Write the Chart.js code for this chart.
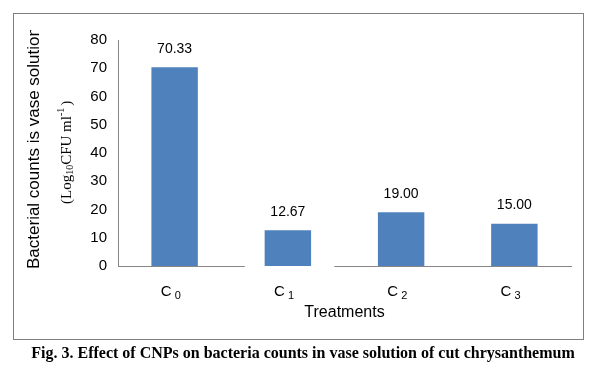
<!DOCTYPE html>
<html>
<head>
<meta charset="utf-8">
<script src="https://cdn.jsdelivr.net/npm/chart.js@4"></script>
<style>
  body { margin: 0; background: #fff; }
  #wrap { width: 603px; height: 371px; }
</style>
</head>
<body>
<div id="wrap"><canvas id="bacteriaChart" width="603" height="371"></canvas></div>
<script>
let treatments = ['0', '1', '2', '3'];   // subscripts of C
let bacteriaCounts = [70.33, 12.67, 19.00, 15.00];
let yTicks = [0, 10, 20, 30, 40, 50, 60, 70, 80];

const axisGray = '#868686';

// frame, titles, caption and value labels
const decorPlugin = {
    id: 'decor',
    beforeDatasetsDraw(chart) {
        // the original axis line has a break between C1 and C2
        let ctx = chart.ctx;
        let xs = chart.scales.x;
        let g0 = xs.getPixelForValue(0.62), g1 = xs.getPixelForValue(1.41);
        ctx.save();
        ctx.fillStyle = '#fff';
        ctx.fillRect(g0, chart.chartArea.bottom - 2, g1 - g0, 4);
        ctx.restore();
    },
    afterDraw(chart) {
        let ctx = chart.ctx;
        let xs = chart.scales.x;
        let area = chart.chartArea;
        ctx.save();

        // outer frame
        ctx.strokeStyle = '#7f7f7f';
        ctx.lineWidth = 1;
        ctx.strokeRect(13.5, 13.5, 570, 326);

        // value labels above bars
        let meta = chart.getDatasetMeta(0);
        ctx.fillStyle = '#000';
        ctx.font = '14px Arial, "Liberation Sans", sans-serif';
        ctx.textAlign = 'center';
        ctx.textBaseline = 'middle';
        meta.data.forEach((bar, i) => {
            ctx.fillText(bacteriaCounts[i].toFixed(2), bar.x, bar.y - 18);
        });

        // category labels C with subscript
        treatments.forEach((sub, i) => {
            let cx = xs.getPixelForValue(i) - 4;
            ctx.font = '15px Arial, "Liberation Sans", sans-serif';
            ctx.textAlign = 'right';
            ctx.textBaseline = 'alphabetic';
            ctx.fillText('C', cx + 1, 296);
            ctx.font = '11px Arial, "Liberation Sans", sans-serif';
            ctx.textAlign = 'left';
            ctx.fillText(sub, cx + 4, 299);
        });

        // x title
        ctx.font = '16px Arial, "Liberation Sans", sans-serif';
        ctx.textAlign = 'center';
        ctx.textBaseline = 'middle';
        ctx.fillText('Treatments', (area.left + area.right) / 2, 313);

        // y title line 1 (clipped at top like the original)
        ctx.save();
        ctx.beginPath();
        ctx.rect(14, 30, 100, 300);
        ctx.clip();
        ctx.translate(34, 269);
        ctx.rotate(-Math.PI / 2);
        ctx.font = '17px Arial, "Liberation Sans", sans-serif';
        ctx.textAlign = 'left';
        ctx.textBaseline = 'middle';
        ctx.fillText('Bacterial counts is vase solution', 0, 0);
        ctx.restore();

        // y title line 2: (Log10CFU ml-1)
        ctx.save();
        ctx.translate(67, 204);
        ctx.rotate(-Math.PI / 2);
        ctx.textBaseline = 'middle';
        ctx.textAlign = 'left';
        let x = 0;
        let big = '15px "Times New Roman", "Liberation Serif", serif';
        let small = '10px "Times New Roman", "Liberation Serif", serif';
        let parts = [['(Log', big, 0], ['10', small, 3], ['CFU ml', big, 0], ['-1', small, -6], [')', big, 0]];
        parts.forEach(p => {
            ctx.font = p[1];
            ctx.fillText(p[0], x, p[2]);
            x += ctx.measureText(p[0]).width + (p[0] === '-1' ? 2 : 0);
        });
        ctx.restore();

        // caption
        ctx.font = 'bold 16px "Times New Roman", "Liberation Serif", serif';
        ctx.textAlign = 'center';
        ctx.textBaseline = 'middle';
        ctx.fillText('Fig. 3. Effect of CNPs on bacteria counts in vase solution of cut chrysanthemum', 303, 354);

        ctx.restore();
    }
};

let ctx = document.getElementById('bacteriaChart').getContext('2d');
let chartInstance = new Chart(ctx, {
    type: 'bar',
    data: {
        labels: treatments.map(t => 'C' + t),
        datasets: [{
            data: bacteriaCounts,
            backgroundColor: '#4F81BD',
            borderWidth: 0,
            categoryPercentage: 1,
            barPercentage: 0.41
        }]
    },
    options: {
        responsive: false,
        animation: false,
        devicePixelRatio: 1,
        layout: {
            padding: { left: 0, top: 40, right: 32, bottom: 105 }
        },
        plugins: {
            legend: { display: false },
            tooltip: { enabled: false }
        },
        scales: {
            x: {
                grid: { display: false, drawTicks: false },
                border: { display: true, color: axisGray, width: 1 },
                ticks: { display: false },
                afterFit: s => { s.height = 0; }
            },
            y: {
                min: yTicks[0],
                max: yTicks[yTicks.length - 1],
                afterBuildTicks: s => { s.ticks = yTicks.map(v => ({ value: v })); },
                grid: { display: false, drawTicks: false },
                border: { display: true, color: axisGray, width: 1 },
                ticks: {
                    padding: 11,
                    color: '#000',
                    font: { family: 'Arial, "Liberation Sans", sans-serif', size: 15 }
                },
                afterFit: s => { s.width = 118; }
            }
        }
    },
    plugins: [decorPlugin]
});
</script>
</body>
</html>
